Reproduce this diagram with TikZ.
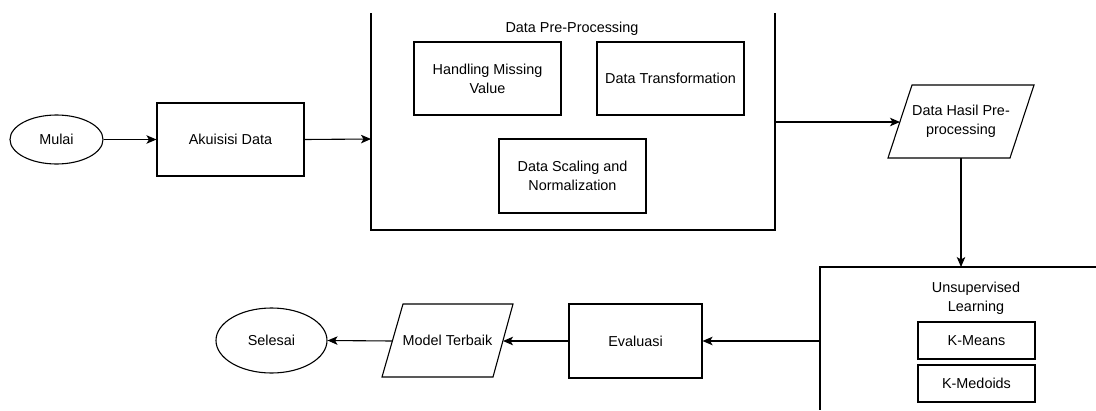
\documentclass[tikz,border=0pt]{standalone}
\usepackage{fontspec}
\setmainfont{Liberation Sans}
\usetikzlibrary{arrows.meta,shapes.geometric}

\tikzset{
  base/.style={draw=black, line width=1.1pt, font=\fontsize{14.4}{19}\selectfont, align=center, inner sep=0pt},
  terminal/.style={base, ellipse},
  procbox/.style={base, rectangle},
  label/.style={font=\fontsize{14.4}{19}\selectfont, align=center, inner sep=0pt},
  frame/.style={draw=black, line width=1.1pt},
  flow/.style={draw=black, line width=1.1pt, -{Stealth[length=10pt,width=8.5pt,inset=2.5pt]}},
}

\begin{document}
\begin{tikzpicture}[x=1pt,y=-1pt]
\useasboundingbox (0,0) rectangle (1096,410);

% start and acquisition
\node[terminal, minimum width=93pt, minimum height=49pt] (mulai) at (56.5,139.5) {Mulai};
\node[procbox, minimum width=147pt, minimum height=73pt] (akuisisi) at (230.5,139.5) {Akuisisi Data};

% pre-processing container (top edge runs off the page)
\draw[frame] (371,13) -- (371,230) -- (775,230) -- (775,13);
\coordinate (preL) at (371,139);
\coordinate (preR) at (775,122);
\node[label] (pretitle) at (572,29) {Data Pre-Processing};
\node[procbox, minimum width=147pt, minimum height=73pt] (missing) at (487.5,78.5) {Handling Missing\\Value};
\node[procbox, minimum width=147pt, minimum height=73pt] (transform) at (670.5,78.5) {Data Transformation};
\node[procbox, minimum width=147pt, minimum height=74pt] (scaling) at (572.5,176) {Data Scaling and\\Normalization};

% pre-processed data (parallelogram)
\draw[frame] (912,85) -- (1034,85) -- (1010,158) -- (888,158) -- cycle;
\node[label] (hasil) at (961,121.5) {Data Hasil Pre-\\processing};
\coordinate (hasilL) at (900,122);
\coordinate (hasilB) at (961,158);

% unsupervised learning container (runs off right and bottom)
\draw[frame] (1096,267) -- (820,267) -- (820,410);
\coordinate (unsupT) at (961,267);
\coordinate (unsupL) at (820,341);
\node[label] (unsuptitle) at (976,298) {Unsupervised\\Learning};
\node[procbox, minimum width=117pt, minimum height=37pt] (kmeans) at (976.5,340.5) {K-Means};
\node[procbox, minimum width=117pt, minimum height=37pt] (kmedoids) at (976.5,383.5) {K-Medoids};

% evaluation, best model and end
\node[procbox, minimum width=133pt, minimum height=74pt] (evaluasi) at (635.5,341) {Evaluasi};
\draw[frame] (403,304) -- (513,304) -- (493,377) -- (382,377) -- cycle;
\node[label] (model) at (447.5,340.5) {Model Terbaik};
\coordinate (modelR) at (503,341);
\coordinate (modelL) at (392.5,341);
\node[terminal, minimum width=111pt, minimum height=65pt] (selesai) at (271.5,340.5) {Selesai};

% connectors
\draw[flow] (mulai) -- (akuisisi);
\draw[flow] (akuisisi.east) -- (preL);
\draw[flow] (preR) -- (hasilL);
\draw[flow] (hasilB) -- (unsupT);
\draw[flow] (unsupL) -- (evaluasi.east);
\draw[flow] (evaluasi.west) -- (modelR);
\draw[flow] (modelL) -- (selesai.east);
\end{tikzpicture}
\end{document}
